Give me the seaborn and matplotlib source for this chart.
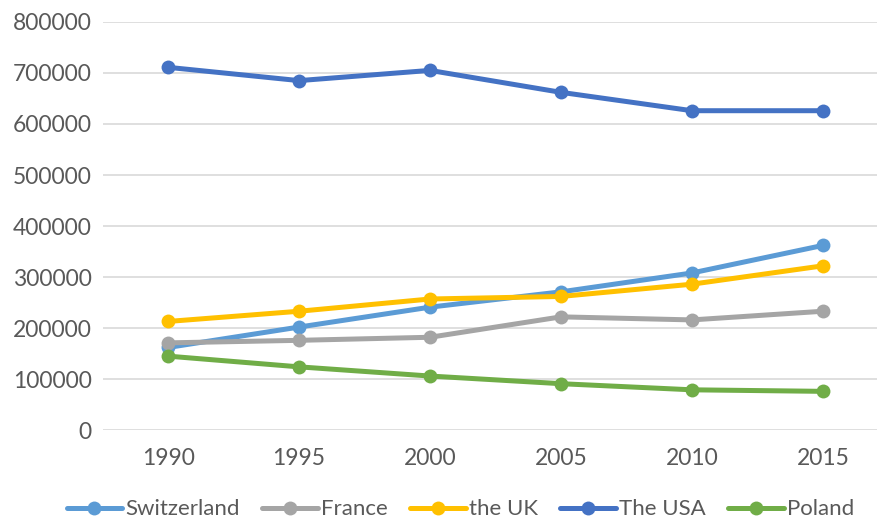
import pandas as pd
import matplotlib
matplotlib.use('Agg')
import matplotlib.pyplot as plt
import seaborn as sns

years = [1990, 1995, 2000, 2005, 2010, 2015]
switzerland = [162000, 202000, 241000, 271000, 308000, 362000]
france = [171000, 176000, 182000, 222000, 216000, 233000]
uk = [213000, 233000, 257000, 262000, 286000, 322000]
usa = [711000, 685000, 705000, 662000, 626000, 626000]
poland = [145000, 124000, 106000, 91000, 79000, 76000]

names = ['Switzerland', 'France', 'the UK', 'The USA', 'Poland']
colors = ['#5B9BD5', '#A5A5A5', '#FFC000', '#4472C4', '#70AD47']

rows = []
for name, vals in zip(names, [switzerland, france, uk, usa, poland]):
    for y, v in zip(years, vals):
        rows.append({'Year': y, 'Value': v, 'Country': name})
df = pd.DataFrame(rows)

sns.set_style('white')
plt.rcParams['font.family'] = ['Lato', 'DejaVu Sans']

fig = plt.figure(figsize=(8.77, 5.22), dpi=100)
ax = fig.add_axes([0.117, 0.176, 0.896, 0.782])

sns.lineplot(data=df, x='Year', y='Value', hue='Country', hue_order=names,
             palette=colors, marker='o', markersize=10, markeredgewidth=0,
             linewidth=3.6, ax=ax, legend=False)

ax.set_xlim(1987.5, 2017.5)
ax.set_ylim(0, 800000)
ax.set_xticks(years)
ax.set_yticks(range(0, 800001, 100000))
ax.set_yticklabels([str(v) for v in range(0, 800001, 100000)])
ax.grid(axis='y', color='#D9D9D9', linewidth=1.2)
ax.set_axisbelow(True)
for s in ax.spines.values():
    s.set_visible(False)
ax.tick_params(axis='both', length=0, labelsize=16.5, labelcolor='#595959')
ax.tick_params(axis='x', pad=13)
ax.tick_params(axis='y', pad=8)
ax.set_xlabel('')
ax.set_ylabel('')

handles = [plt.Line2D([], [], color=c, linewidth=3.6, marker='o', markersize=10,
                      markeredgewidth=0) for c in colors]
leg = fig.legend(handles, names, loc='center', bbox_to_anchor=(0.525, 0.024),
                 ncol=5, frameon=False, handlelength=2.5, handletextpad=0.15,
                 columnspacing=1.0, prop={'size': 16})
for t in leg.get_texts():
    t.set_color('#595959')

fig.savefig('out.png', dpi=100)
